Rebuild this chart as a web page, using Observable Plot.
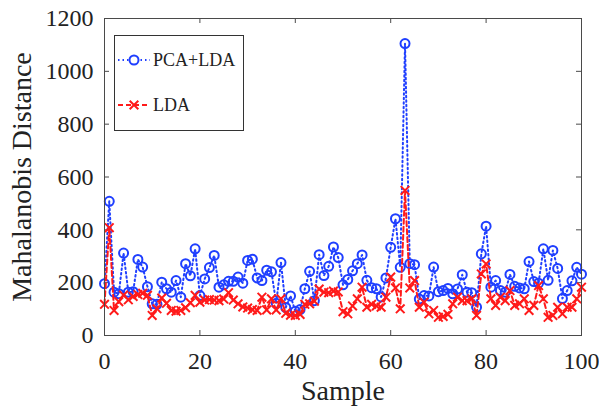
<!DOCTYPE html>
<html><head><meta charset="utf-8">
<script src="https://cdn.jsdelivr.net/npm/d3@7"></script>
<script src="https://cdn.jsdelivr.net/npm/@observablehq/plot@0.6"></script>
<style>
html,body{margin:0;padding:0;background:#fff;}
#chart{width:599px;height:410px;}
</style></head><body><div id="chart"></div>
<script>
const pcaLda = [196, 508, 164, 158, 312, 164, 166, 288, 259, 185,
  120, 118, 202, 177, 164, 208, 145, 272, 226, 328,
  151, 214, 257, 303, 183, 192, 205, 205, 221, 198,
  284, 289, 218, 208, 247, 241, 122, 276, 106, 150,
  92, 98, 177, 243, 132, 306, 227, 262, 335, 295,
  192, 212, 245, 272, 305, 209, 181, 177, 146, 218,
  334, 442, 258, 1105, 272, 268, 138, 151, 150, 259,
  166, 170, 178, 158, 176, 230, 164, 162, 107, 309,
  414, 183, 208, 170, 164, 231, 186, 180, 177, 280,
  204, 198, 328, 209, 322, 254, 140, 170, 207, 258,
  232];
const lda = [118, 408, 95, 128, 153, 135, 148, 155, 160, 152,
  76, 101, 142, 122, 95, 92, 95, 105, 124, 152,
  126, 134, 136, 134, 132, 138, 162, 134, 120, 108,
  104, 98, 95, 145, 97, 139, 97, 139, 84, 77,
  76, 80, 118, 120, 130, 176, 164, 162, 168, 165,
  90, 82, 112, 139, 183, 107, 118, 112, 107, 145,
  221, 180, 101, 549, 180, 208, 107, 126, 82, 95,
  69, 72, 80, 120, 145, 132, 132, 139, 76, 233,
  271, 139, 114, 145, 132, 170, 114, 120, 139, 95,
  114, 189, 139, 69, 76, 107, 82, 107, 107, 139,
  183];
const xTicks = [0, 20, 40, 60, 80, 100];
const yTicks = [0, 200, 400, 600, 800, 1000, 1200];
const seriesNames = ["PCA+LDA", "LDA"];
const xLabel = "Sample";
const yLabel = "Mahalanobis Distance";

const rows = pcaLda.map((v, i) => ({sample: i, pca: v, lda: lda[i]}));

const W = 599, H = 410, mL = 104, mR = 18, mT = 18, mB = 75;
const plotW = W - mL - mR, plotH = H - mT - mB;
const tickLen = 5;
const blue = "#1f3fff", red = "#ff1a1a", ink = "#222", frameCol = "#4a4a4a";
const font = "'Liberation Serif', 'Times New Roman', serif";

const svg = Plot.plot({
  width: W, height: H,
  marginLeft: mL, marginRight: mR, marginTop: mT, marginBottom: mB,
  style: {fontFamily: font, fontSize: "24px", color: ink, background: "#fff"},
  x: {domain: [0, 100]},
  y: {domain: [0, 1200]},
  marks: [
    Plot.tickX(xTicks, {x: d => d, insetTop: plotH - tickLen, stroke: frameCol}),
    Plot.tickX(xTicks, {x: d => d, insetBottom: plotH - tickLen, stroke: frameCol}),
    Plot.tickY(yTicks, {y: d => d, insetRight: plotW - tickLen, stroke: frameCol}),
    Plot.tickY(yTicks, {y: d => d, insetLeft: plotW - tickLen, stroke: frameCol}),
    Plot.axisX(xTicks, {tickSize: 0, tickPadding: 16, label: null, fontSize: 24, tickFormat: d => String(d)}),
    Plot.axisY(yTicks, {tickSize: 0, tickPadding: 11, label: null, fontSize: 24, tickFormat: d => String(d)}),
    Plot.line(rows, {x: "sample", y: "pca", stroke: blue, strokeWidth: 2, strokeDasharray: "1.5,3"}),
    Plot.dot(rows, {x: "sample", y: "pca", symbol: "circle", r: 4.5, stroke: blue, strokeWidth: 2, fill: "none"}),
    Plot.line(rows, {x: "sample", y: "lda", stroke: red, strokeWidth: 2, strokeDasharray: "5,3"}),
    Plot.dot(rows, {x: "sample", y: "lda", symbol: "times", r: 4, stroke: red, strokeWidth: 2}),
    Plot.frame({stroke: frameCol, strokeWidth: 1}),
    Plot.text([xLabel], {frameAnchor: "bottom", dy: 56, fontSize: 28, lineAnchor: "middle", textAnchor: "middle", fill: ink}),
    Plot.text([yLabel], {frameAnchor: "left", dx: -82, rotate: -90, fontSize: 28, lineAnchor: "middle", textAnchor: "middle", fill: ink})
  ]
});
document.getElementById("chart").appendChild(svg);

// legend box
const lg = d3.select(svg).append("g").attr("font-family", font).attr("font-size", 18).attr("fill", ink);
lg.append("rect").attr("x", 114.5).attr("y", 35.5).attr("width", 129).attr("height", 95)
  .attr("fill", "#fff").attr("stroke", "#333").attr("stroke-width", 1);
const entries = [
  {name: seriesNames[0], color: blue, dash: "1.5,3", y: 60, sym: "circle"},
  {name: seriesNames[1], color: red, dash: "5,3", y: 105, sym: "times"}
];
for (const e of entries) {
  lg.append("line").attr("x1", 118).attr("x2", 150).attr("y1", e.y).attr("y2", e.y)
    .attr("stroke", e.color).attr("stroke-width", 2).attr("stroke-dasharray", e.dash);
  if (e.sym === "circle") {
    lg.append("circle").attr("cx", 134).attr("cy", e.y).attr("r", 4.5)
      .attr("fill", "#fff").attr("stroke", e.color).attr("stroke-width", 2);
  } else {
    lg.append("path").attr("d", d3.symbol(d3.symbolTimes, Math.PI * 16)())
      .attr("transform", `translate(134,${e.y})`).attr("fill", "none")
      .attr("stroke", e.color).attr("stroke-width", 2);
  }
  lg.append("text").attr("x", 153).attr("y", e.y).attr("dy", "0.35em")
    .attr("text-anchor", "start").text(e.name);
}
</script></body></html>
